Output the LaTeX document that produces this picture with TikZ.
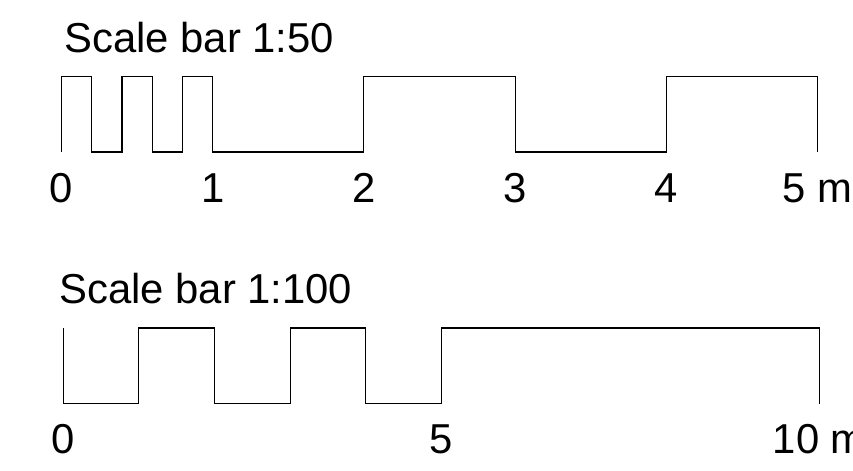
\documentclass[tikz,border=0pt]{standalone}
\usepackage{fontspec}
\setmainfont{Liberation Sans}

\tikzset{
    bar/.style={line width=0.6pt, black},
    barlabel/.style={anchor=base, inner sep=0pt, font=\fontsize{23.8}{28}\selectfont},
    bartitle/.style={anchor=base west, inner sep=0pt, font=\fontsize{23.8}{28}\selectfont}
}

\begin{document}
\begin{tikzpicture}
    \useasboundingbox (0,0) rectangle (17.06,9.42);

    % Scale bar 1:50 (1 m = 3.024 cm)
    \node[bartitle] (title50) at (1.28,8.36) {Scale bar 1:50};
    \begin{scope}[shift={(1.23,6.38)}, x=3.024cm, y=1.51cm]
        \draw[bar] (0,0) -- (0,1) -- (0.2,1) -- (0.2,0) -- (0.4,0) -- (0.4,1)
            -- (0.6,1) -- (0.6,0) -- (0.8,0) -- (0.8,1) -- (1,1) -- (1,0)
            -- (2,0) -- (2,1) -- (3,1) -- (3,0) -- (4,0) -- (4,1) -- (5,1) -- (5,0);
        \foreach \i in {0,...,4}
            \node[barlabel] (mark50-\i) at (\i,-0.675) {\i};
        \node[barlabel] (mark50-5) at (5,-0.675) {5 m};
    \end{scope}

    % Scale bar 1:100 (1 m = 1.512 cm)
    \node[bartitle] (title100) at (1.18,3.34) {Scale bar 1:100};
    \begin{scope}[shift={(1.266,1.346)}, x=1.512cm, y=1.514cm]
        \draw[bar] (0,1) -- (0,0) -- (1,0) -- (1,1) -- (2,1) -- (2,0) -- (3,0)
            -- (3,1) -- (4,1) -- (4,0) -- (5,0) -- (5,1) -- (10,1) -- (10,0);
        \node[barlabel] (mark100-0) at (0,-0.664) {0};
        \node[barlabel] (mark100-5) at (5,-0.664) {5};
        \node[barlabel] (mark100-10) at (10,-0.664) {10 m};
    \end{scope}

\end{tikzpicture}
\end{document}
